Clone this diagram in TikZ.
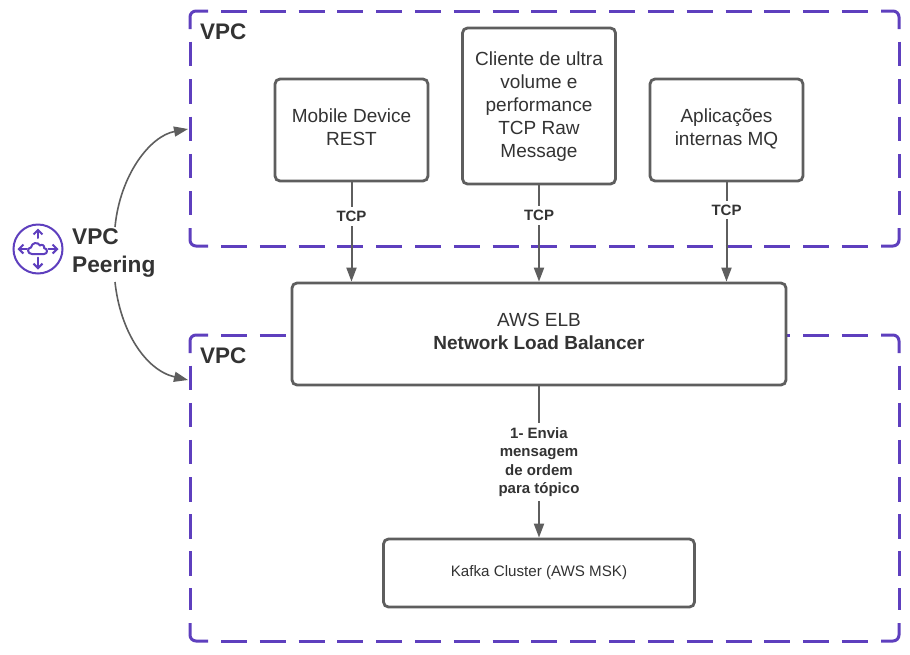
\documentclass[tikz,border=0pt]{standalone}
\usepackage{fontspec}
\setmainfont{Liberation Sans}
\usetikzlibrary{arrows.meta}
\definecolor{vpcpurple}{HTML}{5E3FBE}
\definecolor{boxgrey}{HTML}{5E5E5E}
\definecolor{textgrey}{HTML}{333333}
\newcommand{\firstline}[1]{\rule{0pt}{#1pt}}
\newcommand{\lastline}{\rule[-6.9pt]{0pt}{6.9pt}}
\tikzset{
  x=1pt,y=-1pt,
  vpcbox/.style={inner sep=0pt,outer sep=0pt,anchor=north west},
  vpcedge/.style={draw=vpcpurple,line width=3pt},
  vpccorner/.style={vpcedge,rounded corners=6pt},
  procbox/.style={draw=boxgrey,line width=2.8pt,rounded corners=5pt,fill=white,inner sep=0pt,align=center,text=textgrey,font=\fontsize{19}{23}\selectfont},
  conn/.style={draw=boxgrey,line width=2pt,-{Triangle[length=14pt,width=10pt]}},
  peerconn/.style={conn,line width=1.6pt},
  edgelabel/.style={fill=white,text=textgrey,font=\fontsize{15}{18.4}\selectfont\bfseries,align=center,inner xsep=1pt,inner ysep=4pt},
  vpclabel/.style={text=textgrey,font=\fontsize{22.5}{27}\selectfont\bfseries,inner sep=0pt,anchor=west},
  iconline/.style={draw=vpcpurple,line width=2pt,line cap=round,line join=round},
  iconarrow/.style={iconline,-{Straight Barb[length=4.5pt,width=9pt,line width=2pt]}},
}
% frame: each side has its own dashes, and a solid piece round each corner
\newcommand{\vpcframe}[3]{%
  \draw[vpccorner] ([yshift=-18pt]#1.north west) -- (#1.north west) -- ([xshift=18pt]#1.north west);
  \draw[vpccorner] ([xshift=-18pt]#1.north east) -- (#1.north east) -- ([yshift=-18pt]#1.north east);
  \draw[vpccorner] ([yshift=18pt]#1.south east) -- (#1.south east) -- ([xshift=-18pt]#1.south east);
  \draw[vpccorner] ([xshift=18pt]#1.south west) -- (#1.south west) -- ([yshift=18pt]#1.south west);
  \draw[vpcedge,dash pattern=on 26pt off 12.81pt] ([xshift=31pt]#1.north west) -- ([xshift=-31pt]#1.north east);
  \draw[vpcedge,dash pattern=on 26pt off 12.81pt] ([xshift=31pt]#1.south west) -- ([xshift=-31pt]#1.south east);
  \draw[vpcedge,dash pattern=on #2pt off #3pt] ([yshift=-30.7pt]#1.north west) -- ([yshift=30.7pt]#1.south west);
  \draw[vpcedge,dash pattern=on #2pt off #3pt] ([yshift=-30.7pt]#1.north east) -- ([yshift=30.7pt]#1.south east);
}
\begin{document}
\begin{tikzpicture}
\useasboundingbox (0,0) rectangle (910,654);
\fill[white] (0,0) rectangle (910,654);
% VPC frames
\node[vpcbox,minimum width=709pt,minimum height=235pt] (vpcA) at (190,11) {};
\node[vpcbox,minimum width=709pt,minimum height=306pt] (vpcB) at (190,335) {};
\vpcframe{vpcA}{24.5}{12.9}
\vpcframe{vpcB}{24.5}{12.6}
\node[vpclabel] (vpcAlabel) at (200,32) {VPC};
\node[vpclabel] (vpcBlabel) at (200,356) {VPC};
% Boxes
\node[procbox,minimum width=153pt,minimum height=102pt] (mobile) at (351.5,130) {\firstline{15}Mobile Device\\REST\lastline};
\node[procbox,minimum width=153pt,minimum height=156pt] (client) at (539,106) {\firstline{18}Cliente de ultra\\volume e\\performance\\TCP Raw\\Message\lastline};
\node[procbox,minimum width=153pt,minimum height=102pt] (apps) at (726.5,130) {\firstline{15}Aplicações\\internas MQ\lastline};
\node[procbox,minimum width=494pt,minimum height=102pt] (elb) at (539,334) {\firstline{15.1}AWS ELB\\\textbf{Network Load Balancer}\lastline};
\node[procbox,minimum width=311pt,minimum height=68pt,font=\fontsize{15.15}{18}\selectfont] (kafka) at (539,573) {\strut Kafka Cluster (AWS MSK)};
% Connectors
\draw[conn] (mobile.south) -- (mobile.south |- elb.north) node[edgelabel,pos=0.345] (tcpA) {TCP};
\draw[conn] (client.south) -- (client.south |- elb.north) node[edgelabel,pos=0.315] (tcpB) {TCP};
\draw[conn] (apps.south) -- (apps.south |- elb.north) node[edgelabel,pos=0.28] (tcpC) {TCP};
\draw[conn] (elb.south) -- (kafka.north) node[edgelabel,pos=0.50] (order) {1- Envia\\mensagem\\de ordem\\para tópico};
% VPC peering
\node[circle,draw=vpcpurple,line width=2pt,minimum size=49pt,inner sep=0pt] (icon) at (38,249) {};
\draw[iconarrow] (38,238) -- (38,228.5);
\draw[iconarrow] (38,257.5) -- (38,269.5);
\draw[iconarrow] (27,249) -- (17.5,249);
\draw[iconarrow] (48.5,249) -- (58.5,249);
\draw[iconline] (32,254) .. controls (27,254) and (27,247.5) .. (31,247.5)
  .. controls (31.5,242.5) and (38,241.5) .. (40,245.5)
  .. controls (42,243.5) and (45,246) .. (44,248)
  .. controls (48,248.5) and (48,254) .. (44,254) -- cycle;
\node[text=textgrey,font=\fontsize{22.7}{28}\selectfont\bfseries,align=left,inner sep=0pt,anchor=west] (peer) at (72,253.3) {VPC\\Peering};
\coordinate (peerTop) at (115,227);
\coordinate (peerBottom) at (115,282);
\coordinate (vpcAin) at ([xshift=-2pt]vpcA.west |- 0,129);
\coordinate (vpcBin) at ([xshift=-2pt]vpcB.west |- 0,380);
\draw[peerconn] (peerTop) .. controls (120,175) and (150,136) .. (vpcAin);
\draw[peerconn] (peerBottom) .. controls (120,330) and (145,370) .. (vpcBin);
\end{tikzpicture}
\end{document}
